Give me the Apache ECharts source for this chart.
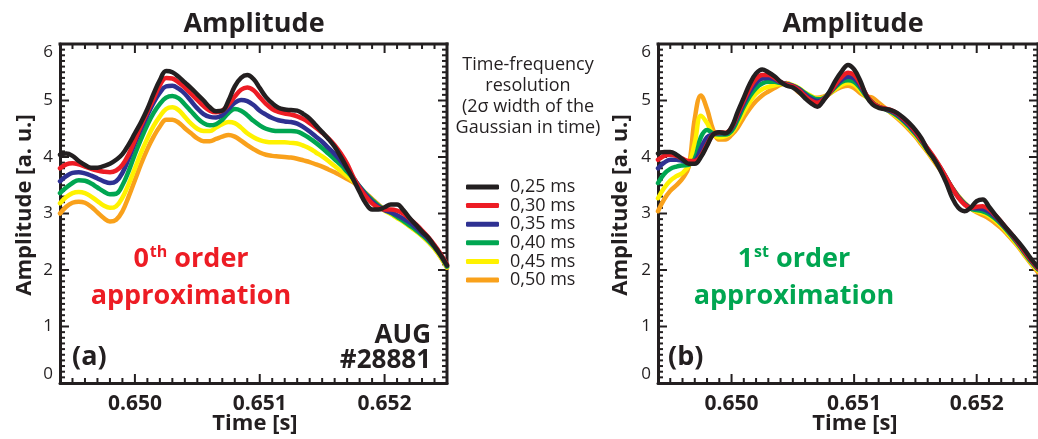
<!DOCTYPE html>
<html>
<head>
<meta charset="utf-8">
<script src="https://cdn.jsdelivr.net/npm/echarts@6/dist/echarts.min.js"></script>
<style>
  html, body { margin: 0; padding: 0; background: #ffffff; }
  #chart { width: 1038px; height: 439px; }
</style>
</head>
<body>
<div id="chart"></div>
<script>
// Sample times [s]
const time = [
  0.64940,0.64945,0.64950,0.64955,0.64960,0.64965,0.64970,0.64975,0.64980,0.64985,
  0.64990,0.64995,0.65000,0.65005,0.65010,0.65015,0.65020,0.65025,0.65030,0.65035,
  0.65040,0.65045,0.65050,0.65055,0.65060,0.65065,0.65070,0.65075,0.65080,0.65085,
  0.65090,0.65095,0.65100,0.65105,0.65110,0.65115,0.65120,0.65125,0.65130,0.65135,
  0.65140,0.65145,0.65150,0.65155,0.65160,0.65165,0.65170,0.65175,0.65180,0.65185,
  0.65190,0.65195,0.65200,0.65205,0.65210,0.65215,0.65220,0.65225,0.65230,0.65235,
  0.65240,0.65245,0.65250
];

// Gaussian widths (legend order) and their colours
const widthNames = ['0,25 ms', '0,30 ms', '0,35 ms', '0,40 ms', '0,45 ms', '0,50 ms'];
const widthColors = ['#231f20', '#ed1c24', '#2e3192', '#00a651', '#fff200', '#f9a11b'];

// Tick positions
const xMajorTicks = [0.650, 0.651, 0.652];
const xTickLabels = ['0.650', '0.651', '0.652'];
const xMinorTicks = [
  0.6495,0.6496,0.6497,0.6498,0.6499,0.6501,0.6502,0.6503,0.6504,0.6505,
  0.6506,0.6507,0.6508,0.6509,0.6511,0.6512,0.6513,0.6514,0.6515,0.6516,
  0.6517,0.6518,0.6519,0.6521,0.6522,0.6523,0.6524
];
const yMajorTicks = [0, 1, 2, 3, 4, 5, 6];
const yMinorTicks = [
  0.1,0.2,0.3,0.4,0.5,0.6,0.7,0.8,0.9,
  1.1,1.2,1.3,1.4,1.5,1.6,1.7,1.8,1.9,
  2.1,2.2,2.3,2.4,2.5,2.6,2.7,2.8,2.9,
  3.1,3.2,3.3,3.4,3.5,3.6,3.7,3.8,3.9,
  4.1,4.2,4.3,4.4,4.5,4.6,4.7,4.8,4.9,
  5.1,5.2,5.3,5.4,5.5,5.6,5.7,5.8,5.9
];

// (a) 0th order approximation — amplitude [a.u.]
const zerothBlack = [
  4.04,4.06,4.02,3.93,3.86,3.81,3.81,3.84,3.88,3.95,
  4.05,4.22,4.42,4.62,4.85,5.12,5.36,5.52,5.50,5.42,
  5.32,5.22,5.11,5.00,4.88,4.81,4.82,5.00,5.25,5.40,
  5.45,5.38,5.22,5.06,4.95,4.87,4.84,4.83,4.82,4.76,
  4.68,4.56,4.44,4.32,4.18,4.00,3.80,3.60,3.38,3.18,
  3.07,3.07,3.11,3.16,3.16,3.06,2.92,2.80,2.68,2.57,
  2.42,2.26,2.08
];
const zerothRed = [
  3.80,3.87,3.89,3.87,3.83,3.79,3.76,3.74,3.73,3.76,
  3.86,4.05,4.30,4.56,4.80,5.03,5.27,5.40,5.39,5.32,
  5.23,5.12,5.01,4.90,4.82,4.79,4.82,4.93,5.07,5.19,
  5.23,5.18,5.06,4.94,4.85,4.80,4.77,4.75,4.72,4.67,
  4.60,4.52,4.43,4.33,4.21,4.06,3.88,3.64,3.45,3.30,
  3.18,3.10,3.07,3.07,3.05,3.00,2.91,2.81,2.70,2.58,
  2.44,2.28,2.10
];
const zerothBlue = [
  3.57,3.66,3.72,3.73,3.71,3.67,3.62,3.57,3.54,3.57,
  3.72,3.97,4.25,4.50,4.74,4.96,5.14,5.25,5.26,5.21,
  5.12,4.99,4.86,4.76,4.71,4.70,4.74,4.85,4.96,5.01,
  4.99,4.92,4.82,4.75,4.69,4.65,4.63,4.62,4.59,4.53,
  4.45,4.36,4.27,4.16,4.05,3.93,3.79,3.63,3.47,3.33,
  3.21,3.12,3.06,3.02,2.97,2.91,2.84,2.75,2.65,2.55,
  2.42,2.27,2.08
];
const zerothGreen = [
  3.36,3.46,3.54,3.59,3.58,3.53,3.46,3.39,3.34,3.35,
  3.50,3.75,4.05,4.32,4.57,4.78,4.94,5.05,5.08,5.04,
  4.93,4.81,4.69,4.60,4.56,4.58,4.66,4.78,4.85,4.82,
  4.74,4.64,4.56,4.50,4.47,4.46,4.46,4.46,4.45,4.40,
  4.33,4.25,4.16,4.06,3.96,3.86,3.74,3.62,3.48,3.35,
  3.24,3.14,3.07,3.01,2.94,2.87,2.79,2.71,2.62,2.52,
  2.40,2.25,2.06
];
const zerothYellow = [
  3.18,3.29,3.36,3.38,3.36,3.30,3.22,3.14,3.10,3.13,
  3.28,3.52,3.80,4.08,4.33,4.55,4.72,4.85,4.88,4.83,
  4.71,4.59,4.50,4.46,4.46,4.52,4.58,4.62,4.60,4.52,
  4.42,4.35,4.30,4.27,4.26,4.26,4.26,4.25,4.24,4.20,
  4.15,4.08,4.01,3.93,3.84,3.75,3.66,3.57,3.45,3.34,
  3.23,3.13,3.05,2.99,2.92,2.85,2.77,2.69,2.60,2.50,
  2.38,2.23,2.05
];
const zerothOrange = [
  3.00,3.12,3.19,3.21,3.19,3.12,3.02,2.92,2.86,2.89,
  3.04,3.30,3.59,3.88,4.14,4.36,4.54,4.66,4.66,4.61,
  4.51,4.42,4.33,4.28,4.28,4.32,4.36,4.39,4.36,4.29,
  4.21,4.14,4.08,4.04,4.02,4.01,4.00,3.99,3.97,3.94,
  3.91,3.87,3.83,3.78,3.73,3.67,3.61,3.55,3.46,3.36,
  3.26,3.16,3.07,3.00,2.93,2.86,2.78,2.70,2.61,2.50,
  2.38,2.22,2.04
];

// (b) 1st order approximation — amplitude [a.u.]
const firstBlack = [
  4.06,4.09,4.09,4.04,3.96,3.88,3.88,4.00,4.20,4.40,
  4.44,4.42,4.53,4.80,5.05,5.30,5.48,5.55,5.50,5.43,
  5.33,5.26,5.23,5.15,5.04,4.95,4.89,5.00,5.16,5.36,
  5.52,5.63,5.55,5.35,5.08,4.93,4.87,4.85,4.83,4.78,
  4.70,4.60,4.48,4.33,4.12,3.97,3.78,3.55,3.28,3.10,
  3.04,3.10,3.22,3.25,3.12,2.98,2.85,2.72,2.60,2.47,
  2.33,2.18,2.05
];
const firstRed = [
  3.95,4.02,4.04,4.02,3.97,3.93,3.93,4.02,4.22,4.40,
  4.44,4.43,4.52,4.76,5.00,5.22,5.38,5.45,5.45,5.40,
  5.33,5.28,5.25,5.18,5.08,5.00,4.96,5.02,5.14,5.29,
  5.42,5.49,5.45,5.30,5.10,4.96,4.89,4.86,4.83,4.77,
  4.68,4.58,4.45,4.30,4.15,4.00,3.83,3.64,3.45,3.28,
  3.16,3.10,3.12,3.13,3.07,2.97,2.85,2.72,2.59,2.45,
  2.30,2.16,2.03
];
const firstBlue = [
  3.80,3.90,3.95,3.95,3.93,3.91,3.93,4.15,4.35,4.40,
  4.42,4.42,4.50,4.72,4.95,5.16,5.31,5.39,5.40,5.37,
  5.32,5.29,5.26,5.20,5.11,5.03,4.99,5.03,5.14,5.27,
  5.37,5.42,5.39,5.26,5.09,4.96,4.89,4.85,4.81,4.75,
  4.66,4.56,4.43,4.29,4.14,3.98,3.82,3.64,3.45,3.29,
  3.17,3.10,3.09,3.08,3.03,2.94,2.83,2.71,2.58,2.44,
  2.29,2.15,2.02
];
const firstGreen = [
  3.54,3.70,3.79,3.83,3.85,3.86,3.97,4.35,4.48,4.42,
  4.40,4.40,4.46,4.66,4.89,5.08,5.22,5.30,5.33,5.33,
  5.31,5.29,5.26,5.21,5.13,5.06,5.02,5.04,5.13,5.24,
  5.33,5.36,5.33,5.22,5.07,4.96,4.89,4.85,4.80,4.73,
  4.64,4.53,4.41,4.27,4.12,3.97,3.81,3.63,3.45,3.30,
  3.18,3.09,3.06,3.04,2.99,2.91,2.81,2.69,2.56,2.42,
  2.27,2.13,2.01
];
const firstYellow = [
  3.27,3.45,3.58,3.66,3.72,3.85,4.25,4.73,4.60,4.40,
  4.35,4.37,4.43,4.60,4.80,4.98,5.12,5.20,5.24,5.27,
  5.29,5.29,5.27,5.22,5.14,5.08,5.03,5.05,5.12,5.21,
  5.28,5.31,5.28,5.18,5.06,4.97,4.90,4.85,4.79,4.71,
  4.62,4.51,4.39,4.25,4.10,3.95,3.79,3.62,3.45,3.30,
  3.18,3.09,3.04,3.01,2.96,2.88,2.78,2.66,2.53,2.40,
  2.25,2.11,1.99
];
const firstOrange = [
  3.04,3.25,3.40,3.50,3.62,3.82,4.68,5.09,4.85,4.48,
  4.31,4.31,4.39,4.52,4.70,4.86,4.99,5.09,5.16,5.22,
  5.28,5.31,5.25,5.14,5.07,5.05,5.05,5.07,5.12,5.19,
  5.24,5.26,5.22,5.13,5.07,5.05,4.96,4.87,4.78,4.69,
  4.59,4.48,4.36,4.22,4.08,3.93,3.78,3.62,3.46,3.31,
  3.19,3.09,3.02,2.97,2.91,2.83,2.74,2.63,2.51,2.38,
  2.23,2.09,1.96
];

const panelA = [zerothBlack, zerothRed, zerothBlue, zerothGreen, zerothYellow, zerothOrange];
const panelB = [firstBlack, firstRed, firstBlue, firstGreen, firstYellow, firstOrange];

const INK = '#231f20';
const FONT = '"Open Sans", "Noto Sans", "DejaVu Sans", sans-serif';
const X_MIN = 0.6494, X_MAX = 0.6525, Y_MIN = 0, Y_MAX = 6;
const MAJOR_LEN = 9, MINOR_LEN = 5;
const PANEL_LEFT = [60, 658];

const grids = PANEL_LEFT.map(left => ({ left, top: 44, width: 387, height: 339 }));

const xAxes = [0, 1].map(g => ({
  gridIndex: g, type: 'value', position: 'bottom', min: X_MIN, max: X_MAX,
  axisLine: { show: true, onZero: false, lineStyle: { color: INK, width: 3 } },
  axisTick: { show: false },
  splitLine: { show: false },
  axisLabel: {
    show: true, customValues: xMajorTicks, margin: 11,
    formatter: v => xTickLabels[xMajorTicks.findIndex(t => Math.abs(t - v) < 1e-7)] || '',
    fontFamily: FONT, fontWeight: 'bold', fontSize: 21, color: INK
  }
}));

const yAxes = [0, 1].map(g => ({
  gridIndex: g, type: 'value', position: 'left', min: Y_MIN, max: Y_MAX, interval: 1,
  axisLine: { show: true, onZero: false, lineStyle: { color: INK, width: 3 } },
  axisTick: { show: false },
  splitLine: { show: false },
  axisLabel: {
    show: true, margin: 7, fontFamily: FONT, fontSize: 17, color: INK,
    verticalAlignMinLabel: 'bottom', verticalAlignMaxLabel: 'top'
  }
}));

// Upper and right edges of the frame
const frameItems = [
  [X_MIN, Y_MAX, X_MAX, Y_MAX],
  [X_MAX, Y_MIN, X_MAX, Y_MAX]
];

// One inward tick set: anchor points in data space, fixed pixel offset (dx, dy)
function tickSet(g, points, dx, dy) {
  return {
    type: 'custom', xAxisIndex: g, yAxisIndex: g,
    encode: { x: 0, y: 1 },
    data: points,
    renderItem: (params, api) => {
      const p = api.coord([api.value(0), api.value(1)]);
      return {
        type: 'line',
        shape: { x1: p[0], y1: p[1], x2: p[0] + dx, y2: p[1] + dy },
        style: { stroke: INK, lineWidth: 2 }
      };
    }
  };
}

function frameSeries(g) {
  const atBottom = vs => vs.map(v => [v, Y_MIN]);
  const atTop = vs => vs.map(v => [v, Y_MAX]);
  const atLeft = vs => vs.map(v => [X_MIN, v]);
  const atRight = vs => vs.map(v => [X_MAX, v]);
  return [
    {
      type: 'custom', xAxisIndex: g, yAxisIndex: g,
      encode: { x: [0, 2], y: [1, 3] },
      data: frameItems,
      renderItem: (params, api) => {
        const a = api.coord([api.value(0), api.value(1)]);
        const b = api.coord([api.value(2), api.value(3)]);
        return {
          type: 'line',
          shape: { x1: a[0], y1: a[1], x2: b[0], y2: b[1] },
          style: { stroke: INK, lineWidth: 3, lineCap: 'square' }
        };
      }
    },
    tickSet(g, atBottom(xMajorTicks), 0, -MAJOR_LEN),
    tickSet(g, atTop(xMajorTicks), 0, MAJOR_LEN),
    tickSet(g, atBottom(xMinorTicks), 0, -MINOR_LEN),
    tickSet(g, atTop(xMinorTicks), 0, MINOR_LEN),
    tickSet(g, atLeft(yMajorTicks), MAJOR_LEN, 0),
    tickSet(g, atRight(yMajorTicks), -MAJOR_LEN, 0),
    tickSet(g, atLeft(yMinorTicks), MINOR_LEN, 0),
    tickSet(g, atRight(yMinorTicks), -MINOR_LEN, 0)
  ];
}

function seriesFor(values, g) {
  const out = [];
  // widest window first so the 0,25 ms curve sits on top
  for (let i = values.length - 1; i >= 0; i--) {
    out.push({
      name: widthNames[i],
      type: 'line',
      xAxisIndex: g, yAxisIndex: g,
      data: time.map((t, j) => [t, values[i][j]]),
      smooth: 0.4,
      showSymbol: false,
      symbol: 'none',
      color: widthColors[i],
      lineStyle: { color: widthColors[i], width: 4.5, cap: 'round', join: 'round' }
    });
  }
  return out;
}

const boldText = (x, y, text, size, extra) => ({
  type: 'text', x, y, silent: true,
  style: Object.assign({
    text, fill: INK, font: `bold ${size}px ${FONT}`, align: 'center', verticalAlign: 'middle'
  }, extra || {})
});

function orderLabel(x, num, sup, color) {
  return {
    type: 'text', x, y: 278, silent: true,
    style: {
      text: `{n|${num}}{s|${sup}}{n| order}\n{n|approximation}`,
      align: 'center', verticalAlign: 'middle',
      rich: {
        n: { fill: color, fontFamily: FONT, fontWeight: 'bold', fontSize: 27, lineHeight: 37 },
        s: { fill: color, fontFamily: FONT, fontWeight: 'bold', fontSize: 16, verticalAlign: 'top', padding: [3, 0, 0, 1] }
      }
    }
  };
}

const chart = echarts.init(document.getElementById('chart'), null, { renderer: 'canvas' });

chart.setOption({
  animation: false,
  backgroundColor: '#ffffff',
  grid: grids,
  xAxis: xAxes,
  yAxis: yAxes,
  legend: {
    orient: 'vertical', left: 461, top: 173,
    data: widthNames,
    icon: 'roundRect', itemWidth: 33, itemHeight: 5, itemGap: 0.6,
    selectedMode: false,
    textStyle: { fontFamily: FONT, fontSize: 18, color: INK, lineHeight: 18, padding: [0, 0, 0, 6] }
  },
  series: [
    ...seriesFor(panelA, 0), ...seriesFor(panelB, 1),
    ...frameSeries(0), ...frameSeries(1)
  ],
  graphic: [
    boldText(254, 24, 'Amplitude', 27),
    boldText(853, 24, 'Amplitude', 27),
    boldText(255, 424, 'Time [s]', 22),
    boldText(855, 424, 'Time [s]', 22),
    Object.assign(boldText(25, 205, 'Amplitude [a. u.]', 22), { rotation: Math.PI / 2 }),
    Object.assign(boldText(621, 205, 'Amplitude [a. u.]', 22), { rotation: Math.PI / 2 }),
    {
      type: 'text', x: 528, y: 54, silent: true,
      style: {
        text: 'Time-frequency\nresolution\n(2σ width of the\nGaussian in time)',
        fill: INK, fontFamily: FONT, fontSize: 18, lineHeight: 21,
        align: 'center', verticalAlign: 'top'
      }
    },
    orderLabel(191, '0', 'th', '#ed1c24'),
    orderLabel(794, '1', 'st', '#00a651'),
    boldText(72, 357, '(a)', 27, { align: 'left' }),
    boldText(668, 357, '(b)', 27, { align: 'left' }),
    boldText(431, 336, 'AUG', 26, { align: 'right' }),
    boldText(431, 361, '#28881', 26, { align: 'right' })
  ]
});
</script>
</body>
</html>
